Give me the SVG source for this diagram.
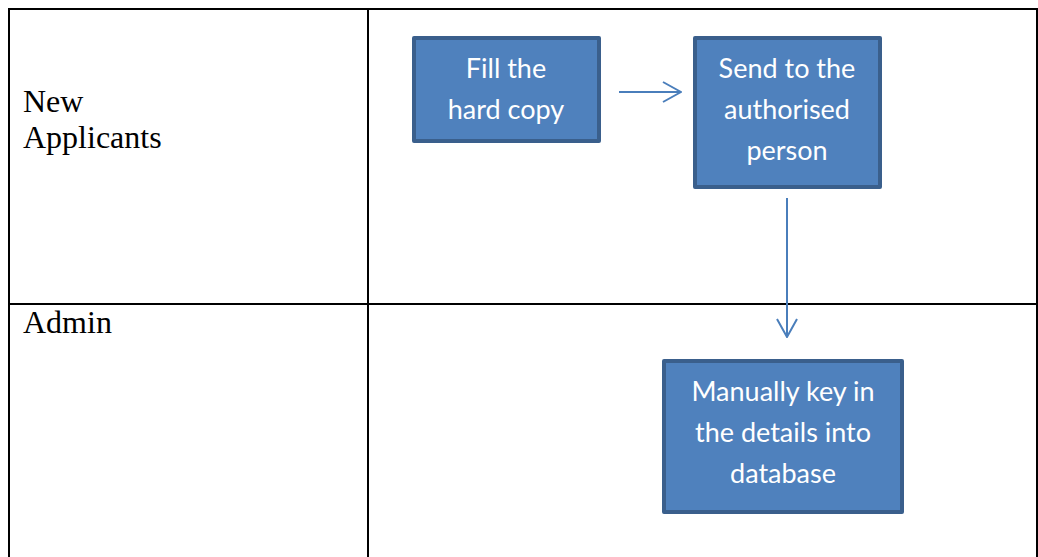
<svg xmlns="http://www.w3.org/2000/svg" width="1038" height="557" viewBox="0 0 1038 557">
<defs>
<style>
.grid{stroke:#000;stroke-width:2;fill:none}
.lane{font-family:"Liberation Serif",serif;font-size:32px;fill:#000}
.box{fill:#4F81BD;stroke:#3A5F8C;stroke-width:4;stroke-linejoin:round}
.bt{font-family:Lato,"Open Sans",sans-serif;font-size:27px;fill:#fff;text-anchor:middle}
.conn{stroke:#4A7EBB;stroke-width:2;fill:none}
</style>
<marker id="arr" viewBox="0 0 20 22" refX="19" refY="11" markerWidth="20" markerHeight="22" markerUnits="userSpaceOnUse" orient="auto">
<path d="M1 1 L19 11 L1 21" fill="none" stroke="#4A7EBB" stroke-width="2"/>
</marker>
</defs>
<g id="table">
<rect class="grid" x="9" y="9" width="1028" height="560"/>
<line class="grid" x1="368" y1="9" x2="368" y2="557"/>
<line class="grid" x1="9" y1="304" x2="1037" y2="304"/>
<text class="lane" x="23" y="112">New</text>
<text class="lane" x="23" y="148">Applicants</text>
<text class="lane" x="23" y="333">Admin</text>
</g>
<g id="n1">
<rect class="box" x="414" y="38" width="185" height="103"/>
<text class="bt" x="506" y="78">Fill the</text>
<text class="bt" x="506" y="119">hard copy</text>
</g>
<g id="n2">
<rect class="box" x="695" y="38" width="185" height="149"/>
<text class="bt" x="787" y="78">Send to the</text>
<text class="bt" x="787" y="119">authorised</text>
<text class="bt" x="787" y="160">person</text>
</g>
<g id="n3">
<rect class="box" x="664" y="361" width="238" height="151"/>
<text class="bt" x="783" y="401">Manually key in</text>
<text class="bt" x="783" y="442">the details into</text>
<text class="bt" x="783" y="483">database</text>
</g>
<g id="connectors">
<line class="conn" x1="619" y1="92" x2="681" y2="92" marker-end="url(#arr)"/>
<line class="conn" x1="787" y1="198" x2="787" y2="337" marker-end="url(#arr)"/>
</g>
</svg>
